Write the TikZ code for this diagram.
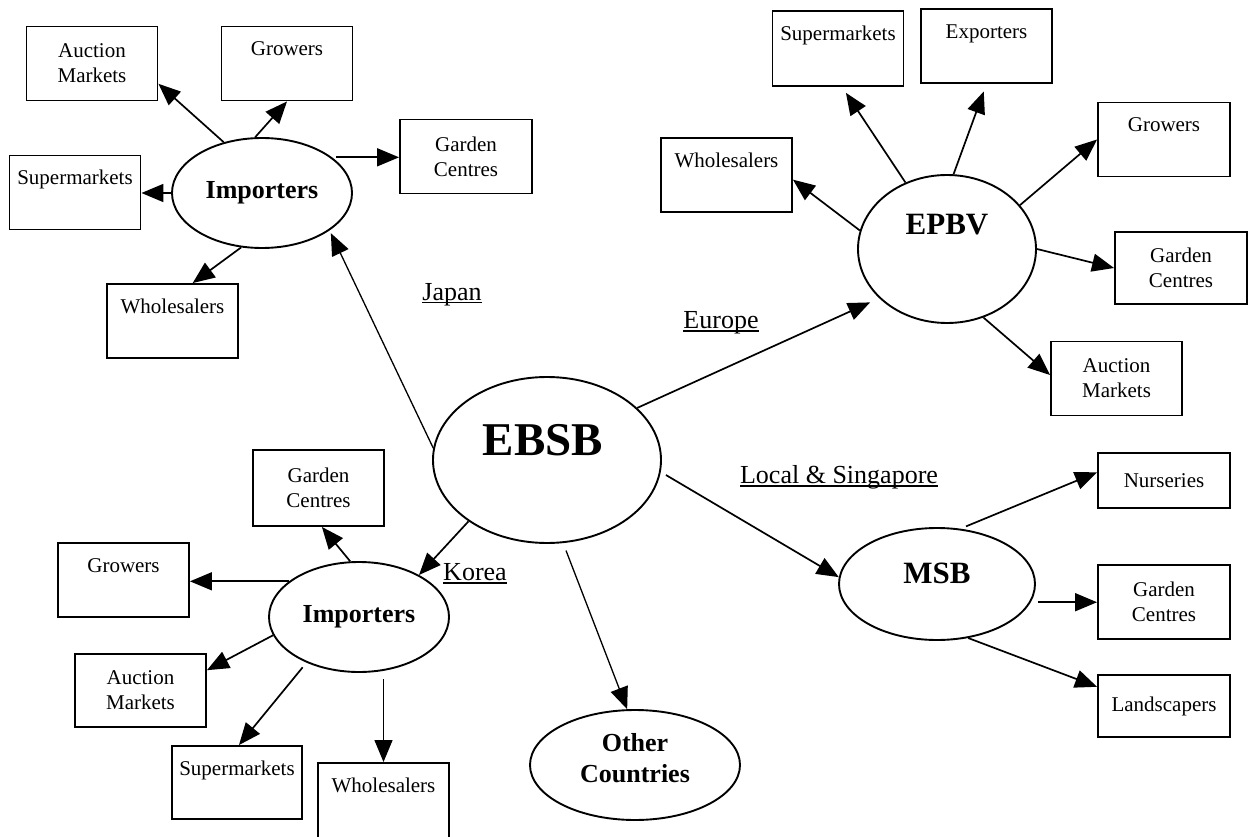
\documentclass[tikz,border=0pt]{standalone}
\usepackage{fontspec}
\setmainfont{Liberation Serif}
\usetikzlibrary{arrows.meta,shapes.geometric}
\newsavebox{\labelulbox}
% underlined label: the rule sits just under the baseline and crosses descenders
\newcommand{\ulined}[1]{\sbox\labelulbox{#1}\rlap{\rule[-3.5pt]{\wd\labelulbox}{1.3pt}}\usebox\labelulbox}

\begin{document}
\begin{tikzpicture}[x=1pt, y=-1pt,
  boxfont/.style={font=\fontsize{21pt}{25pt}\selectfont},
  box/.style={draw, rectangle, line width=1.9pt, minimum width=131pt,
    minimum height=74pt, inner sep=0pt, align=center, boxfont},
  toptext/.style={label={[boxfont, anchor=base, yshift=-30pt, inner sep=0pt]north:#1}},
  hub/.style={draw, ellipse, line width=1.9pt, inner sep=0pt},
  hubfont/.style={font=\bfseries\fontsize{#1}{#1}\selectfont},
  hubtext/.style={inner sep=0pt, anchor=base},
  arr/.style={line width=1.7pt, -{Triangle[length=22pt, width=18pt]}},
  lbl/.style={font=\fontsize{26pt}{30pt}\selectfont, inner sep=0pt, anchor=base},
]
\fill[white] (0,0) rectangle (1248,837);
\useasboundingbox (0,0) rectangle (1248,837);

% ---------- central organisation ----------
\node[hub, minimum width=228pt, minimum height=166pt] (ebsb) at (547,460) {};
\node[hubtext, hubfont=47pt] (ebsbT) at ([xshift=-4pt,yshift=5pt]ebsb.center) {EBSB};

% ---------- Japan ----------
\node[hub, minimum width=180pt, minimum height=110pt, hubfont=26pt] (jImp) at (262,193) {Importers};
\node[box] (jAuc) at (92,63.5) {Auction\\Markets};
\node[box, toptext=Growers] (jGro) at (287,63.5) {};
\node[box, minimum width=132pt] (jGar) at (466,156.5) {Garden\\Centres};
\node[box, toptext=Supermarkets] (jSup) at (75,192.5) {};
\node[box, toptext=Wholesalers] (jWho) at (172.5,321) {};
\node[lbl] (japan) at (452,300) {\ulined{Japan}};

% ---------- Europe ----------
\node[hub, minimum width=178pt, minimum height=148pt] (epbv) at (947,249) {};
\node[hubtext, hubfont=31pt] (epbvT) at ([yshift=14pt]epbv.center) {EPBV};
\node[box, minimum height=75pt, toptext=Supermarkets] (eSup) at (838,48.5) {};
\node[box, toptext=Exporters] (eExp) at (986.5,46) {};
\node[box, toptext=Wholesalers] (eWho) at (726.5,175) {};
\node[box, minimum width=132pt, toptext=Growers] (eGro) at (1164,139.5) {};
\node[box, minimum width=132pt, minimum height=72pt] (eGar) at (1181,268) {Garden\\Centres};
\node[box] (eAuc) at (1116.5,378.5) {Auction\\Markets};
\node[lbl] (europe) at (721,328) {\ulined{Europe}};

% ---------- Local & Singapore ----------
\node[hub, minimum width=196pt, minimum height=112pt] (msb) at (937,584) {};
\node[hubtext, hubfont=31pt] (msbT) at ([yshift=1pt]msb.center) {MSB};
\node[box, minimum width=132pt, minimum height=55pt] (nur) at (1164,480.5) {Nurseries};
\node[box, minimum width=132pt] (mGar) at (1164,602) {Garden\\Centres};
\node[box, minimum width=132pt, minimum height=62pt] (land) at (1164,706) {Landscapers};
\node[lbl] (local) at (839,483) {\ulined{Local \& Singapore}};

% ---------- Korea ----------
\node[hub, minimum width=180pt, minimum height=110pt, hubfont=26pt] (kImp) at (359,617) {Importers};
\node[box, minimum height=76pt] (kGar) at (318.5,488) {Garden\\Centres};
\node[box, toptext=Growers] (kGro) at (123.5,580) {};
\node[box, minimum height=73pt] (kAuc) at (140.5,690.5) {Auction\\Markets};
\node[box, minimum width=130pt, minimum height=73pt, toptext=Supermarkets] (kSup) at (237,782.5) {};
\node[box, minimum height=84pt, toptext=Wholesalers] (kWho) at (383.5,805) {};
\node[lbl] (korea) at (475,580) {\ulined{Korea}};

% ---------- other countries ----------
\node[hub, minimum width=210pt, minimum height=110pt] (oth) at (635,765) {};
\node[inner sep=0pt, align=center, font=\bfseries\fontsize{26pt}{31pt}\selectfont] (othT)
  at ([yshift=7pt]oth.center) {Other\\Countries};

% ---------- connectors from EBSB ----------
\draw[arr, line width=1.3pt, shorten >=3pt] (ebsb.174) -- (jImp.-29);
\draw[arr, shorten >=10pt] (ebsb.30) -- (epbv.-144);
\draw[arr, shorten <=6pt] (ebsb.-6) -- (msb.176);
\draw[arr] (ebsb.-142) -- (kImp.35);
\draw[arr, line width=1.3pt, shorten <=8pt] (ebsb.-79) -- (oth.98);

% ---------- Japan importers ----------
\draw[arr] (jImp.127) -- (jAuc.-17);
\draw[arr] (jImp.97) -- (jGro.south);
\draw[arr, shorten <=4pt] (jImp.27) -- (jImp.27 -| jGar.west);
\draw[arr] (jImp.west) -- (jImp.west -| jSup.east);
\draw[arr] (jImp.-111) -- (jWho.62);

% ---------- EPBV ----------
\draw[arr] (epbv.168) -- (eWho.-4);
\draw[arr, shorten >=7pt] (epbv.122) -- (eSup.-84);
\draw[arr, shorten >=8pt] (epbv.85) -- (eExp.south);
\draw[arr] (epbv.31) -- (eGro.west);
\draw[arr] (epbv.east) -- (eGar.west);
\draw[arr] (epbv.-62) -- (eAuc.177);

% ---------- MSB ----------
\draw[arr, shorten <=6pt] (msb.67) -- (nur.173);
\draw[arr, shorten <=7pt] (msb.-11) -- (msb.-11 -| mGar.west);
\draw[arr] (msb.-60) -- (land.164);

% ---------- Korea importers ----------
\draw[arr] (kImp.99) -- (kGar.-85);
\draw[arr] (kImp.153) -- (kImp.153 -| kGro.east);
\draw[arr] (kImp.-168) -- (kAuc.17);
\draw[arr, shorten <=6pt] (kImp.-139) -- (kSup.87);
\draw[arr, line width=1.3pt, shorten <=8pt] (kImp.-68 -| kWho.north) -- (kWho.north);
\end{tikzpicture}
\end{document}
